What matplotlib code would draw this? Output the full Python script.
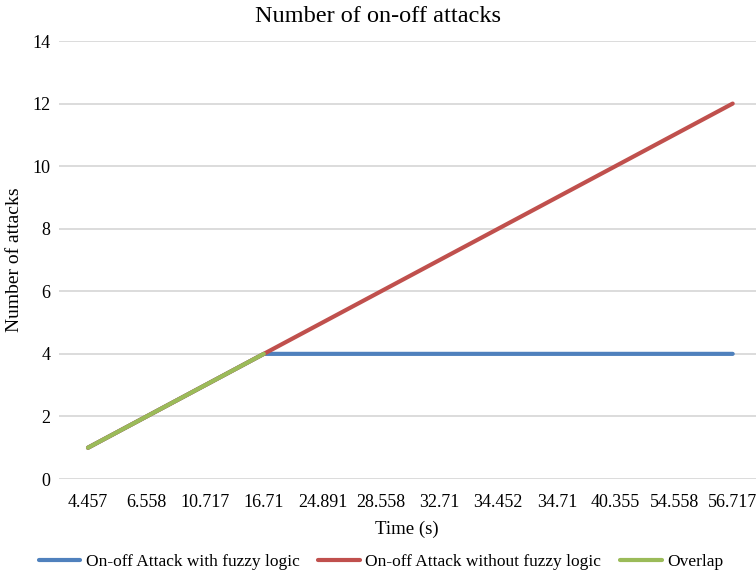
import matplotlib
matplotlib.use("Agg")
import matplotlib.pyplot as plt
import numpy as np

categories = ["4.457", "6.558", "10.717", "16.71", "24.891", "28.558",
              "32.71", "34.452", "34.71", "40.355", "54.558", "56.717"]
with_fuzzy = [1, 2, 3, 4, 4, 4, 4, 4, 4, 4, 4, 4]
without_fuzzy = [1, 2, 3, 4, 5, 6, 7, 8, 9, 10, 11, 12]
overlap = [1, 2, 3, 4, None, None, None, None, None, None, None, None]

plt.rcParams['font.family'] = ['Liberation Serif', 'DejaVu Serif']

W, H = 756, 573
fig = plt.figure(figsize=(W / 100, H / 100), dpi=100)
left, right, top, bottom = 58.7, 756, 41, 479
ax = fig.add_axes([left / W, 1 - bottom / H, (right - left) / W, (bottom - top) / H])

x = np.arange(len(categories))
ov = np.array([np.nan if v is None else v for v in overlap], dtype=float)
l1, = ax.plot(x, with_fuzzy, color="#4F81BD", lw=3, solid_capstyle="round", label="On-off Attack with fuzzy logic")
l2, = ax.plot(x, without_fuzzy, color="#C0504D", lw=3, solid_capstyle="round", label="On-off Attack without fuzzy logic")
l3, = ax.plot(x, ov, color="#9BBB59", lw=3, solid_capstyle="round", label="Overlap")

ax.set_xlim(-0.5, 11.5 - 6 / 58.6)
ax.set_ylim(0, 14)
ax.set_yticks(range(0, 15, 2))
ax.set_xticks(x)
ax.set_xticklabels(categories)
ax.grid(axis="y", color="#D9D9D9", lw=1.3)
ax.set_axisbelow(True)
for s in ax.spines.values():
    s.set_visible(False)
ax.tick_params(axis="both", length=0, labelsize=13, colors="black")
ax.tick_params(axis="x", pad=11)
ax.tick_params(axis="y", pad=6)

fig.text(378 / W, 1 - 17 / H, "Number of on-off attacks", ha="center", va="center", fontsize=17.5)
fig.text(407 / W, 1 - 529 / H, "Time (s)", ha="center", va="center", fontsize=13.5)
fig.text(15 / W, 1 - 260 / H, "Number of attacks", ha="center", va="center", rotation=90, fontsize=14)

fig.legend(handles=[l1, l2, l3], loc="center", bbox_to_anchor=(381 / W, 1 - 562 / H), ncol=3,
           frameon=False, fontsize=12.5, handlelength=2.4, columnspacing=1.1, handletextpad=0.3)

fig.savefig("out.png", dpi=100)
